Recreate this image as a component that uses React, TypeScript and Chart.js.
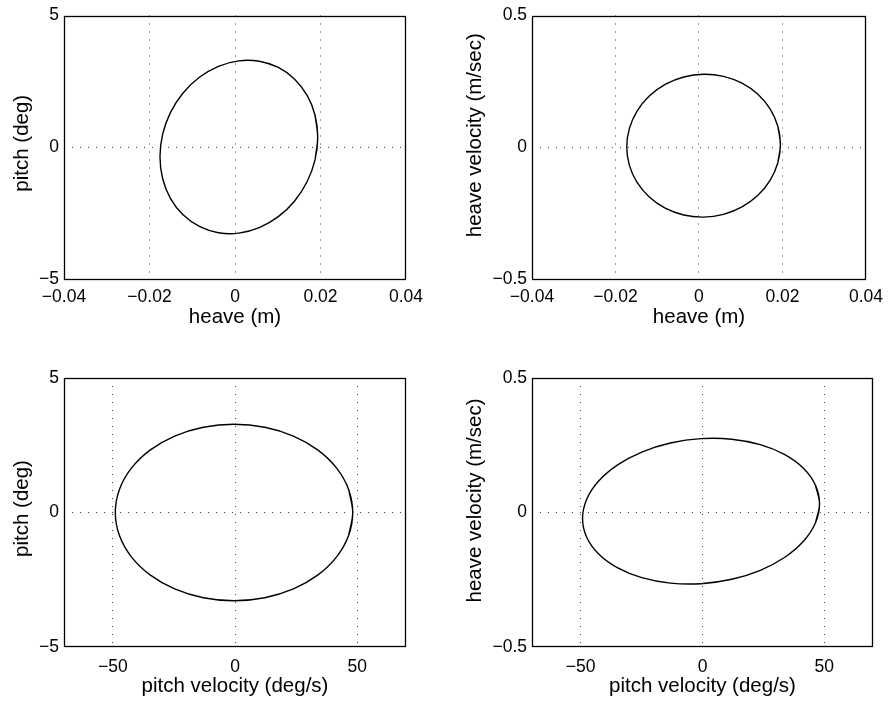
import React, { useEffect, useRef } from "react";
import { Chart, registerables } from "chart.js";

Chart.register(...registerables);

// ---- axis ranges and ticks ----
const heaveRange = [-0.04, 0.04];
const pitchRange = [-5, 5];
const heaveVelRange = [-0.5, 0.5];
const pitchVelRange = [-70, 70];

const heaveTicks = [-0.04, -0.02, 0, 0.02, 0.04];
const heaveTickLabels = ["\u22120.04", "\u22120.02", "0", "0.02", "0.04"];
const pitchTicks = [-5, 0, 5];
const pitchTickLabels = ["\u22125", "0", "5"];
const heaveVelTicks = [-0.5, 0, 0.5];
const heaveVelTickLabels = ["\u22120.5", "0", "0.5"];
const pitchVelTicks = [-50, 0, 50];
const pitchVelTickLabels = ["\u221250", "0", "50"];

// ---- panel 1: heave (m) vs pitch (deg) ----
const p1Heave = [0.01935, 0.01872, 0.01688, 0.01395, 0.01013, 0.00568, 0.0009, -0.00388, -0.00833, -0.01215, -0.01508, -0.01692, -0.01755, -0.01692, -0.01508, -0.01215, -0.00833, -0.00388, 0.0009, 0.00568, 0.01013, 0.01395, 0.01688, 0.01872];
const p1Pitch = [0.382, 1.216, 1.967, 2.585, 3.027, 3.264, 3.279, 3.071, 2.655, 2.058, 1.322, 0.496, -0.362, -1.196, -1.947, -2.565, -3.007, -3.244, -3.259, -3.051, -2.635, -2.038, -1.302, -0.476];

// ---- panel 2: heave (m) vs heave velocity (m/sec) ----
const p2Heave = [0.0195, 0.01887, 0.01703, 0.01411, 0.0103, 0.00586, 0.0011, -0.00366, -0.0081, -0.01191, -0.01483, -0.01667, -0.0173, -0.01667, -0.01483, -0.01191, -0.0081, -0.00366, 0.0011, 0.00586, 0.0103, 0.01411, 0.01703, 0.01887];
const p2HeaveVel = [0.0107, 0.0807, 0.1456, 0.2009, 0.243, 0.269, 0.277, 0.2665, 0.2383, 0.1943, 0.1374, 0.0716, 0.0013, -0.0687, -0.1336, -0.1889, -0.231, -0.257, -0.265, -0.2545, -0.2263, -0.1823, -0.1254, -0.0596];

// ---- panel 3: pitch velocity (deg/s) vs pitch (deg) ----
const p3PitchVel = [48.2, 46.54, 41.69, 33.97, 23.9, 12.18, -0.4, -12.98, -24.7, -34.77, -42.49, -47.34, -49.0, -47.34, -42.49, -34.77, -24.7, -12.98, -0.4, 12.18, 23.9, 33.97, 41.69, 46.54];
const p3Pitch = [0, 0.849, 1.64, 2.319, 2.841, 3.168, 3.28, 3.168, 2.841, 2.319, 1.64, 0.849, 0, -0.849, -1.64, -2.319, -2.841, -3.168, -3.28, -3.168, -2.841, -2.319, -1.64, -0.849];

// ---- panel 4: pitch velocity (deg/s) vs heave velocity (m/sec) ----
const p4PitchVel = [48.05, 46.39, 41.53, 33.8, 23.73, 11.99, -0.6, -13.19, -24.93, -35.0, -42.73, -47.59, -49.25, -47.59, -42.73, -35.0, -24.93, -13.19, -0.6, 11.99, 23.73, 33.8, 41.53, 46.39];
const p4HeaveVel = [0.0324, 0.1012, 0.1635, 0.215, 0.2522, 0.2725, 0.2746, 0.2583, 0.2248, 0.1763, 0.1161, 0.0483, -0.0224, -0.0912, -0.1535, -0.205, -0.2422, -0.2625, -0.2646, -0.2483, -0.2148, -0.1663, -0.1061, -0.0383];

const FONT = "'Liberation Sans', Arial, Helvetica, sans-serif";
const TICK_SIZE = 17.5;
const TITLE_SIZE = 20.5;

type PanelCfg = {
  left: number; top: number; w: number; h: number;
  xs: number[]; ys: number[];
  xRange: number[]; yRange: number[];
  xTicks: number[]; xLabels: string[];
  yTicks: number[]; yLabels: string[];
  xTitle: string; yTitle: string;
  padTop: number; padRight: number;
  yAxisW: number; xAxisH: number;
  xTickPad: number; xTitlePad: number;
  yTitleX: number; yTitleDy: number;
};

const boxPlugin = {
  id: "box",
  afterDraw(chart: any) {
    const { ctx, chartArea } = chart;
    ctx.save();
    ctx.strokeStyle = "#000";
    ctx.lineWidth = 1.3;
    ctx.strokeRect(
      Math.round(chartArea.left) + 0.5,
      Math.round(chartArea.top) + 0.5,
      Math.round(chartArea.right - chartArea.left) - 1,
      Math.round(chartArea.bottom - chartArea.top) - 1
    );
    ctx.restore();
  },
};

// y-axis title drawn as rotated text, centred like the MATLAB ylabel
const yTitlePlugin = {
  id: "yTitle",
  afterDraw(chart: any, _args: any, opts: any) {
    const { ctx, chartArea } = chart;
    const cy = (chartArea.top + chartArea.bottom) / 2 + opts.dy;
    ctx.save();
    ctx.translate(opts.x, cy);
    ctx.rotate(-Math.PI / 2);
    ctx.fillStyle = "#000";
    ctx.font = `${TITLE_SIZE}px ${FONT}`;
    ctx.textAlign = "center";
    ctx.textBaseline = "middle";
    ctx.fillText(opts.text, 0, 0);
    ctx.restore();
  },
};

function gridColor(range: number[]) {
  return (c: any) => {
    const v = c.tick ? c.tick.value : null;
    if (v === range[0] || v === range[1]) return "rgba(0,0,0,0)";
    return "rgba(0,0,0,0.75)";
  };
}

function Panel({ cfg }: { cfg: PanelCfg }) {
  const ref = useRef<HTMLCanvasElement | null>(null);
  useEffect(() => {
    if (!ref.current) return;
    const pts = cfg.xs.map((x, i) => ({ x, y: cfg.ys[i] }));
    const closed = [pts[pts.length - 1], ...pts, pts[0], pts[1]];
    const chart = new Chart(ref.current, {
      type: "scatter",
      data: {
        datasets: [
          {
            data: closed,
            showLine: true,
            borderColor: "#000",
            borderWidth: 1.4,
            pointRadius: 0,
            tension: 0.34,
            fill: false,
          },
        ],
      },
      options: {
        animation: false,
        responsive: false,
        devicePixelRatio: 1,
        events: [],
        layout: { padding: { top: cfg.padTop, right: cfg.padRight, left: 0, bottom: 0 } },
        plugins: {
          legend: { display: false },
          tooltip: { enabled: false },
          yTitle: { text: cfg.yTitle, x: cfg.yTitleX, dy: cfg.yTitleDy },
        },
        scales: {
          x: {
            type: "linear",
            position: "bottom",
            min: cfg.xRange[0],
            max: cfg.xRange[1],
            afterBuildTicks: (s: any) => {
              s.ticks = cfg.xTicks.map((v) => ({ value: v }));
            },
            afterFit: (s: any) => {
              s.height = cfg.xAxisH;
            },
            ticks: {
              autoSkip: false,
              maxRotation: 0,
              padding: cfg.xTickPad,
              color: "#000",
              font: { family: FONT, size: TICK_SIZE },
              callback: (_v: any, i: number) => cfg.xLabels[i],
            },
            grid: { drawTicks: false, color: gridColor(cfg.xRange), lineWidth: 1 },
            border: { display: false, dash: [1, 7] },
            title: {
              display: true,
              text: cfg.xTitle,
              color: "#000",
              font: { family: FONT, size: TITLE_SIZE, lineHeight: 1.2 },
              padding: { top: 0, bottom: cfg.xTitlePad },
            },
          },
          y: {
            type: "linear",
            position: "left",
            min: cfg.yRange[0],
            max: cfg.yRange[1],
            afterBuildTicks: (s: any) => {
              s.ticks = cfg.yTicks.map((v) => ({ value: v }));
            },
            afterFit: (s: any) => {
              s.width = cfg.yAxisW;
            },
            ticks: {
              autoSkip: false,
              padding: 5,
              color: "#000",
              font: { family: FONT, size: TICK_SIZE },
              callback: (_v: any, i: number) => cfg.yLabels[i],
            },
            grid: { drawTicks: false, color: gridColor(cfg.yRange), lineWidth: 1 },
            border: { display: false, dash: [1, 7] },
            title: { display: false },
          },
        },
      } as any,
      plugins: [boxPlugin, yTitlePlugin],
    });
    return () => chart.destroy();
  }, [cfg]);
  return (
    <canvas
      ref={ref}
      width={cfg.w}
      height={cfg.h}
      style={{ position: "absolute", left: cfg.left, top: cfg.top, width: cfg.w, height: cfg.h }}
    />
  );
}

const panels: PanelCfg[] = [
  {
    left: 0, top: 0, w: 445, h: 345,
    xs: p1Heave, ys: p1Pitch, xRange: heaveRange, yRange: pitchRange,
    xTicks: heaveTicks, xLabels: heaveTickLabels, yTicks: pitchTicks, yLabels: pitchTickLabels,
    xTitle: "heave (m)", yTitle: "pitch (deg)",
    padTop: 10, padRight: 39, yAxisW: 64, xAxisH: 66, xTickPad: 8, xTitlePad: 15,
    yTitleX: 22.5, yTitleDy: -4,
  },
  {
    left: 445, top: 0, w: 446, h: 345,
    xs: p2Heave, ys: p2HeaveVel, xRange: heaveRange, yRange: heaveVelRange,
    xTicks: heaveTicks, xLabels: heaveTickLabels, yTicks: heaveVelTicks, yLabels: heaveVelTickLabels,
    xTitle: "heave (m)", yTitle: "heave velocity (m/sec)",
    padTop: 10, padRight: 18, yAxisW: 87, xAxisH: 66, xTickPad: 8, xTitlePad: 15,
    yTitleX: 30.4, yTitleDy: -12,
  },
  {
    left: 0, top: 345, w: 445, h: 359,
    xs: p3PitchVel, ys: p3Pitch, xRange: pitchVelRange, yRange: pitchRange,
    xTicks: pitchVelTicks, xLabels: pitchVelTickLabels, yTicks: pitchTicks, yLabels: pitchTickLabels,
    xTitle: "pitch velocity (deg/s)", yTitle: "pitch (deg)",
    padTop: 33, padRight: 39, yAxisW: 64, xAxisH: 57, xTickPad: 10, xTitlePad: 5,
    yTitleX: 22.5, yTitleDy: -4,
  },
  {
    left: 445, top: 345, w: 446, h: 359,
    xs: p4PitchVel, ys: p4HeaveVel, xRange: pitchVelRange, yRange: heaveVelRange,
    xTicks: pitchVelTicks, xLabels: pitchVelTickLabels, yTicks: heaveVelTicks, yLabels: heaveVelTickLabels,
    xTitle: "pitch velocity (deg/s)", yTitle: "heave velocity (m/sec)",
    padTop: 33, padRight: 18, yAxisW: 87, xAxisH: 57, xTickPad: 10, xTitlePad: 5,
    yTitleX: 30.4, yTitleDy: -12,
  },
];

export default function App() {
  return (
    <div style={{ position: "absolute", left: 0, top: 0, width: 891, height: 704, background: "#fff" }}>
      {panels.map((p, i) => (
        <Panel key={i} cfg={p} />
      ))}
    </div>
  );
}
